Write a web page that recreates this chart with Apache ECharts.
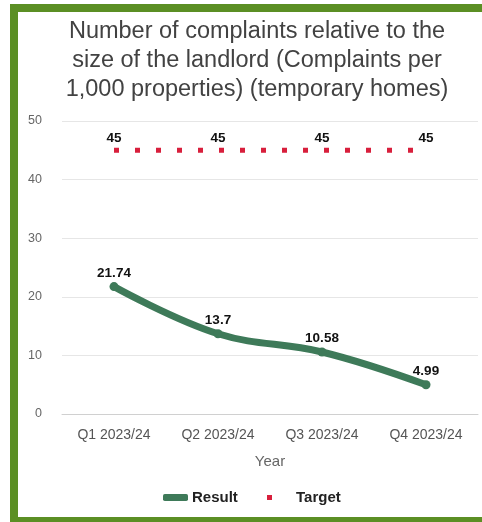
<!DOCTYPE html>
<html>
<head>
<meta charset="utf-8">
<style>
  html, body { margin: 0; padding: 0; background: #ffffff; }
  #chart { width: 482px; height: 522px; }
</style>
<script src="https://cdn.jsdelivr.net/npm/echarts@6/dist/echarts.min.js"></script>
</head>
<body>
<div id="chart"></div>
<script>
// Quarterly complaints per 1,000 temporary homes, with the target line
const quarters = ['Q1 2023/24', 'Q2 2023/24', 'Q3 2023/24', 'Q4 2023/24'];
const resultValues = [21.74, 13.7, 10.58, 4.99];
const targetValues = [45, 45, 45, 45];
const yTicks = { min: 0, max: 50, interval: 10 };

const frameGreen = '#5b8f24';
const lineGreen = '#3e7a59';
const dotRed = '#d81f3c';
const font = 'Liberation Sans, Arial, sans-serif';

const chart = echarts.init(document.getElementById('chart'), null, { renderer: 'canvas' });

chart.setOption({
  backgroundColor: '#ffffff',
  animation: false,
  title: {
    text: 'Number of complaints relative to the\nsize of the landlord (Complaints per\n1,000 properties) (temporary homes)',
    left: 252,
    textAlign: 'center',
    top: 12,
    textStyle: {
      fontFamily: font,
      fontSize: 23.5,
      fontWeight: 'normal',
      color: '#424242',
      lineHeight: 29
    }
  },
  graphic: [
    { type: 'rect', shape: { x: 10, y: 4, width: 472, height: 8 }, style: { fill: frameGreen } },
    { type: 'rect', shape: { x: 10, y: 4, width: 8, height: 518 }, style: { fill: frameGreen } },
    { type: 'rect', shape: { x: 10, y: 517, width: 472, height: 5 }, style: { fill: frameGreen } }
  ],
  legend: [
    {
      data: [{ name: 'Result', icon: 'roundRect' }],
      left: 158,
      top: 485,
      itemWidth: 25,
      itemHeight: 7,
      textStyle: { fontFamily: font, fontSize: 15, fontWeight: 'bold', color: '#222222', padding: [0, 0, 0, -1] }
    },
    {
      data: [{ name: 'Target', icon: 'rect' }],
      left: 262,
      top: 485,
      itemWidth: 5,
      itemHeight: 5,
      textStyle: { fontFamily: font, fontSize: 15, fontWeight: 'bold', color: '#222222', padding: [0, 0, 0, 19] }
    }
  ],
  grid: { left: 62, right: 4, top: 121, bottom: 108 },
  xAxis: {
    type: 'category',
    data: quarters,
    boundaryGap: true,
    name: 'Year',
    nameLocation: 'middle',
    nameGap: 40,
    nameTextStyle: { fontFamily: font, fontSize: 15, color: '#666666' },
    axisLine: { show: true, lineStyle: { color: '#d0d0d0', width: 1 } },
    axisTick: { show: false },
    axisLabel: { fontFamily: font, fontSize: 14, color: '#555555', margin: 14 }
  },
  yAxis: {
    type: 'value',
    min: yTicks.min,
    max: yTicks.max,
    interval: yTicks.interval,
    axisLine: { show: false },
    axisTick: { show: false },
    axisLabel: { fontFamily: font, fontSize: 12.5, color: '#666666', margin: 20 },
    splitLine: { lineStyle: { color: '#e6e6e6', width: 1 } }
  },
  series: [
    {
      name: 'Result',
      type: 'line',
      data: resultValues,
      smooth: 0.4,
      symbol: 'circle',
      symbolSize: 9,
      color: lineGreen,
      lineStyle: { color: lineGreen, width: 7, cap: 'round' },
      itemStyle: { color: lineGreen },
      label: {
        show: true,
        position: 'top',
        distance: 2,
        fontFamily: font,
        fontSize: 13.5,
        fontWeight: 'bold',
        color: '#111111'
      },
      z: 3
    },
    {
      name: 'Target',
      type: 'line',
      data: targetValues,
      symbol: 'rect',
      symbolSize: 0.1,
      showSymbol: true,
      color: dotRed,
      itemStyle: { color: dotRed },
      lineStyle: { color: dotRed, width: 5, type: [5, 16], cap: 'butt' },
      label: {
        show: true,
        position: 'top',
        distance: 5,
        fontFamily: font,
        fontSize: 13.5,
        fontWeight: 'bold',
        color: '#111111'
      },
      z: 2
    }
  ]
});
</script>
</body>
</html>
